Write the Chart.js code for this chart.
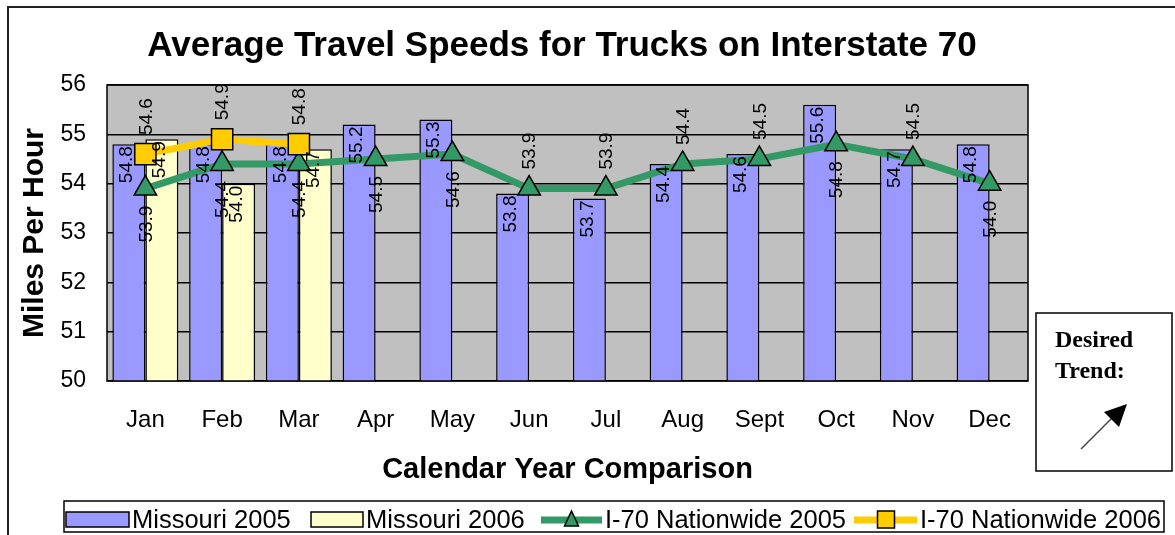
<!DOCTYPE html>
<html>
<head>
<meta charset="utf-8">
<script src="https://cdn.jsdelivr.net/npm/chart.js@4.4.0/dist/chart.umd.min.js"></script>
<style>
  html, body { margin: 0; padding: 0; background: #fff; }
  #wrap { width: 1175px; height: 535px; }
</style>
</head>
<body>
<div id="wrap"><canvas id="chart" width="1175" height="535"></canvas></div>
<script>
// data
const months = ['Jan', 'Feb', 'Mar', 'Apr', 'May', 'Jun', 'Jul', 'Aug', 'Sept', 'Oct', 'Nov', 'Dec'];
const missouri2005 = [54.8, 54.8, 54.8, 55.2, 55.3, 53.8, 53.7, 54.4, 54.6, 55.6, 54.7, 54.8];
const missouri2006 = [54.9, 54.0, 54.7, null, null, null, null, null, null, null, null, null];
const nationwide2005 = [53.9, 54.4, 54.4, 54.5, 54.6, 53.9, 53.9, 54.4, 54.5, 54.8, 54.5, 54.0];
const nationwide2006 = [54.6, 54.9, 54.8, null, null, null, null, null, null, null, null, null];
const yMin = 50;
const yMax = 56;

const BLUE = '#9999FF';
const CREAM = '#FFFFCC';
const GREEN = '#339966';
const GOLD = '#FFCC00';
const PLOT_BG = '#C0C0C0';
const SANS = '"Liberation Sans", Arial, sans-serif';
const SERIF = '"Liberation Serif", "Times New Roman", serif';

// legend symbol slots (x, width), one per dataset
const legendSlots = [[66, 63], [311, 52], [541, 61], [854, 63]];

// gray plot background + frame around plot area
const plotBackground = {
  id: 'plotBackground',
  beforeDraw(chart) {
    const { ctx, chartArea: a } = chart;
    ctx.save();
    ctx.fillStyle = PLOT_BG;
    ctx.fillRect(a.left, a.top, a.right - a.left, a.bottom - a.top);
    ctx.restore();
  },
  afterDraw(chart) {
    const { ctx, chartArea: a } = chart;
    ctx.save();
    ctx.strokeStyle = '#000';
    ctx.lineWidth = 1.5;
    ctx.strokeRect(a.left, a.top, a.right - a.left, a.bottom - a.top);
    ctx.restore();
  }
};

function rotatedLabel(ctx, text, x, y, align) {
  ctx.save();
  ctx.translate(x, y);
  ctx.rotate(-Math.PI / 2);
  ctx.textAlign = align;
  ctx.textBaseline = 'middle';
  ctx.fillText(text, 0, 0);
  ctx.restore();
}

// vertical value labels, like the Excel ones
const valueLabels = {
  id: 'valueLabels',
  afterDatasetsDraw(chart) {
    const { ctx } = chart;
    ctx.save();
    ctx.fillStyle = '#000';
    ctx.font = '19px ' + SANS;
    chart.data.datasets.forEach((ds, i) => {
      const meta = chart.getDatasetMeta(i);
      meta.data.forEach((el, j) => {
        const v = ds.data[j];
        if (v == null) return;
        const txt = v.toFixed(1);
        if (ds.type === 'line') {
          let below = false;
          if (ds.labelSide === 'auto') below = missouri2005[j] - v > 0.35;
          if (below) rotatedLabel(ctx, txt, el.x + 1, el.y + 17, 'right');
          else rotatedLabel(ctx, txt, el.x + 1, el.y - 19, 'left');
        } else {
          rotatedLabel(ctx, txt, el.x - 2, el.y + 2, 'right');
        }
      });
    });
    ctx.restore();
  }
};

// title, legend, outer frame, "Desired Trend" box
const decorations = {
  id: 'decorations',
  afterDraw(chart) {
    const { ctx } = chart;
    ctx.save();

    // outer frame (right/bottom edges fall outside the picture)
    ctx.strokeStyle = '#222';
    ctx.lineWidth = 2;
    ctx.beginPath();
    ctx.moveTo(8, 535);
    ctx.lineTo(8, 7);
    ctx.lineTo(1175, 7);
    ctx.stroke();

    // title
    ctx.fillStyle = '#000';
    ctx.font = 'bold 35px ' + SANS;
    ctx.textAlign = 'center';
    ctx.textBaseline = 'middle';
    ctx.fillText('Average Travel Speeds for Trucks on Interstate 70', 562, 46);

    // legend
    ctx.lineWidth = 1.5;
    ctx.strokeStyle = '#000';
    ctx.strokeRect(64, 501, 1100, 31);
    ctx.font = '25.5px ' + SANS;
    ctx.textAlign = 'left';
    const cy = 520;
    chart.data.datasets.forEach((ds, i) => {
      const [x, w] = legendSlots[i];
      if (ds.type === 'line') {
        ctx.strokeStyle = ds.borderColor;
        ctx.lineWidth = 7;
        ctx.beginPath();
        ctx.moveTo(x, cy);
        ctx.lineTo(x + w, cy);
        ctx.stroke();
        ctx.fillStyle = ds.pointBackgroundColor;
        ctx.strokeStyle = '#000';
        ctx.lineWidth = 1.5;
        ctx.beginPath();
        const mx = x + w / 2;
        if (ds.pointStyle === 'triangle') {
          ctx.moveTo(mx, cy - 9);
          ctx.lineTo(mx + 7, cy + 6);
          ctx.lineTo(mx - 7, cy + 6);
          ctx.closePath();
        } else {
          ctx.rect(mx - 8, cy - 9, 17, 17);
        }
        ctx.fill();
        ctx.stroke();
      } else {
        ctx.fillStyle = ds.backgroundColor;
        ctx.strokeStyle = '#000';
        ctx.lineWidth = 1.5;
        ctx.fillRect(x, cy - 8, w, 15);
        ctx.strokeRect(x, cy - 8, w, 15);
      }
      ctx.fillStyle = '#000';
      ctx.fillText(ds.label, x + w + 3, cy + 1);
    });

    // desired trend box
    ctx.strokeStyle = '#000';
    ctx.lineWidth = 1.5;
    ctx.strokeRect(1036, 313, 136, 158);
    ctx.font = 'bold 24px ' + SERIF;
    ctx.fillStyle = '#000';
    ctx.textBaseline = 'alphabetic';
    ctx.fillText('Desired', 1055, 347);
    ctx.fillText('Trend:', 1055, 378);
    ctx.strokeStyle = '#444';
    ctx.lineWidth = 1.5;
    ctx.beginPath();
    ctx.moveTo(1081, 449);
    ctx.lineTo(1113, 417);
    ctx.stroke();
    ctx.fillStyle = '#000';
    ctx.beginPath();
    ctx.moveTo(1127, 404);
    ctx.lineTo(1119, 427);
    ctx.lineTo(1104, 412);
    ctx.closePath();
    ctx.fill();

    ctx.restore();
  }
};

new Chart(document.getElementById('chart'), {
  type: 'bar',
  data: {
    labels: months,
    datasets: [
      {
        label: 'Missouri 2005',
        data: missouri2005,
        backgroundColor: BLUE,
        borderColor: '#000',
        borderWidth: 1.5,
        categoryPercentage: 0.86,
        barPercentage: 1.0,
        order: 2
      },
      {
        label: 'Missouri 2006',
        data: missouri2006,
        backgroundColor: CREAM,
        borderColor: '#000',
        borderWidth: 1.5,
        categoryPercentage: 0.86,
        barPercentage: 1.0,
        order: 2
      },
      {
        type: 'line',
        label: 'I-70 Nationwide 2005',
        data: nationwide2005,
        borderColor: GREEN,
        borderWidth: 7,
        tension: 0,
        pointStyle: 'triangle',
        pointRadius: 13,
        pointBackgroundColor: GREEN,
        pointBorderColor: '#000',
        pointBorderWidth: 1.5,
        labelSide: 'auto',
        order: 1
      },
      {
        type: 'line',
        label: 'I-70 Nationwide 2006',
        data: nationwide2006,
        borderColor: GOLD,
        borderWidth: 7,
        tension: 0,
        pointStyle: 'rect',
        pointRadius: 15,
        pointBackgroundColor: GOLD,
        pointBorderColor: '#000',
        pointBorderWidth: 1.5,
        labelSide: 'above',
        order: 0
      }
    ]
  },
  options: {
    responsive: false,
    animation: false,
    layout: { padding: { top: 85, right: 147, bottom: 47.6, left: 13 } },
    plugins: {
      legend: { display: false },
      title: { display: false },
      tooltip: { enabled: false }
    },
    scales: {
      x: {
        grid: { display: false, drawTicks: false },
        border: { display: false },
        ticks: { color: '#000', padding: 25, font: { family: SANS, size: 24 } },
        title: {
          display: true,
          text: 'Calendar Year Comparison',
          color: '#000',
          padding: 0,
          font: { family: SANS, size: 29, weight: 'bold', lineHeight: 1.2 }
        },
        afterFit(scale) { scale.height = 106.4; }
      },
      y: {
        min: yMin,
        max: yMax,
        grid: { color: '#000', lineWidth: 1.5, drawTicks: false },
        border: { display: false },
        ticks: { stepSize: 1, color: '#000', padding: 21, font: { family: SANS, size: 23 } },
        title: {
          display: true,
          text: 'Miles Per Hour',
          color: '#000',
          padding: 4,
          font: { family: SANS, size: 30, weight: 'bold', lineHeight: 1.2 }
        },
        afterFit(scale) { scale.width = 94; }
      }
    }
  },
  plugins: [plotBackground, valueLabels, decorations]
});
</script>
</body>
</html>
